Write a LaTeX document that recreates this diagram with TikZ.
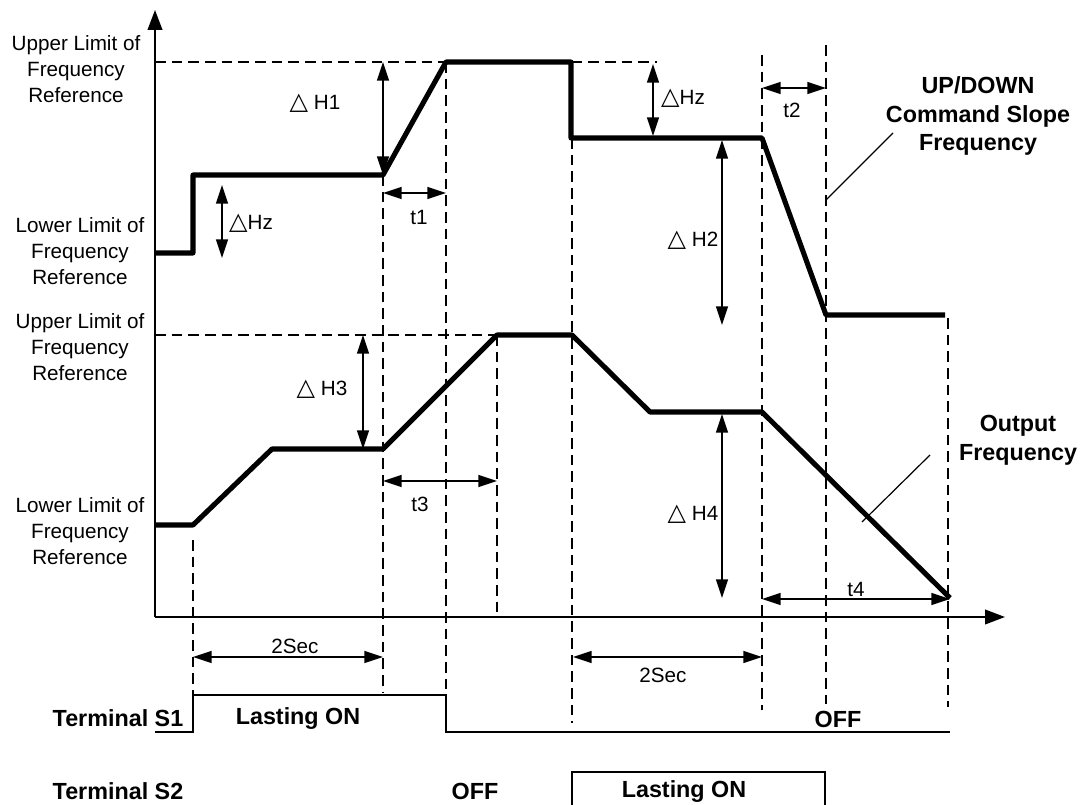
\documentclass[tikz,border=0pt]{standalone}
\usepackage{fontspec}
\setmainfont{Liberation Sans}
\newfontfamily\symf{DejaVu Sans}
\usetikzlibrary{arrows.meta}
\newcommand\mytri{{\symf\fontsize{18}{18}\selectfont △}}
\tikzset{
  curve/.style={line width=3.8pt, line join=round},
  axisline/.style={line width=1.4pt, -{Triangle[length=15pt,width=11pt]}},
  dimarrow/.style={line width=1.1pt, {Triangle[length=14pt,width=9pt]}-{Triangle[length=14pt,width=9pt]}},
  dsh/.style={line width=0.9pt, dash pattern=on 8pt off 4.5pt},
  lbl/.style={font=\fontsize{15.5}{19.5}\selectfont, align=center, inner sep=0pt},
  blbl/.style={font=\fontsize{17.5}{21.5}\selectfont\bfseries, align=center, inner sep=0pt},
  sig/.style={line width=1.1pt},
  leader/.style={line width=0.9pt},
}
\begin{document}
\begin{tikzpicture}[x=0.75pt,y=-0.75pt]
\useasboundingbox (0,0) rectangle (1083,805);

% key coordinates
\coordinate (O) at (155,617);
\coordinate (Ytop) at (155,10);
\coordinate (Xend) at (1005,617);

% axes
\draw[axisline] (O) -- (Ytop);
\draw[axisline] (O) -- (Xend);

% dashed horizontals
\draw[dsh] (155,62) -- (657,62);
\draw[dsh] (155,335) -- (497,335);

% dashed verticals
\draw[dsh] (193,540) -- (193,695);
\draw[dsh] (383,175) -- (383,692);
\draw[dsh] (446,62) -- (446,695);
\draw[dsh] (497,335) -- (497,617);
\draw[dsh] (572,138) -- (572,723);
\draw[dsh] (762,55) -- (762,710);
\draw[dsh] (826,45) -- (826,704);
\draw[dsh] (948,318) -- (948,707);

% command frequency curve
\draw[curve] (155,253) -- (193,253) -- (193,175) -- (383,175) -- (446,62)
  -- (571,62) -- (571,138) -- (762,138) -- (826,315) -- (945,315);

% output frequency curve
\draw[curve] (155,525) -- (193,525) -- (272,449) -- (383,449) -- (497,335)
  -- (572,335) -- (650,412) -- (762,412) -- (950,598);

% dimension arrows upper
\draw[dimarrow] (222,185) -- (222,258);
\draw[dimarrow] (383,62) -- (383,175);
\draw[dimarrow] (383,193) -- (446,193);
\draw[dimarrow] (653,64) -- (653,136);
\draw[dimarrow] (722,140) -- (722,325);
\draw[dimarrow] (762,88) -- (826,88);

% dimension arrows lower
\draw[dimarrow] (363,335) -- (363,449);
\draw[dimarrow] (383,481) -- (497,481);
\draw[dimarrow] (722,414) -- (722,598);
\draw[dimarrow] (762,599) -- (950,599);

% 2Sec arrows
\draw[dimarrow] (193,657) -- (383,657);
\draw[dimarrow] (573,657) -- (762,657);

% leaders
\draw[leader] (826,200) -- (893,133);
\draw[leader] (862,522) -- (930,455);

% terminal S1 signal
\draw[sig] (155,732) -- (193,732) -- (193,695) -- (446,695) -- (446,732) -- (950,732);
% terminal S2 signal
\draw[sig] (572,805) -- (572,772) -- (825,772) -- (825,805);

% left labels
\node[lbl] (ul1) at (76,69) {Upper Limit of\\Frequency\\Reference};
\node[lbl] (ll1) at (80,251) {Lower Limit of\\Frequency\\Reference};
\node[lbl] (ul2) at (80,347) {Upper Limit of\\Frequency\\Reference};
\node[lbl] (ll2) at (80,531) {Lower Limit of\\Frequency\\Reference};

% dimension labels
\node[lbl] (dh1) at (315,103) {\mytri\ H1};
\node[lbl] (dhz1) at (251,223) {\mytri Hz};
\node[lbl] (t1) at (419,217) {t1};
\node[lbl] (dhz2) at (683,98) {\mytri Hz};
\node[lbl] (dh2) at (693,240) {\mytri\ H2};
\node[lbl] (t2) at (792,110) {t2};
\node[lbl] (dh3) at (322,389) {\mytri\ H3};
\node[lbl] (t3) at (420,504) {t3};
\node[lbl] (dh4) at (693,514) {\mytri\ H4};
\node[lbl] (t4) at (856,589) {t4};
\node[lbl] (s1) at (295,646) {2Sec};
\node[lbl] (s2) at (663,675) {2Sec};

% bold labels
\node[blbl] (updown) at (978,116) {UP/DOWN\\Command Slope\\Frequency};
\node[blbl] (outf) at (1018,440) {Output\\Frequency};
\node[blbl] (ts1) at (118,718) {Terminal S1};
\node[blbl] (lon1) at (298,719) {Lasting ON};
\node[blbl] (off1) at (838,719) {OFF};
\node[blbl] (ts2) at (118,791) {Terminal S2};
\node[blbl] (off2) at (475,791) {OFF};
\node[blbl] (lon2) at (684,792) {Lasting ON};
\end{tikzpicture}
\end{document}
